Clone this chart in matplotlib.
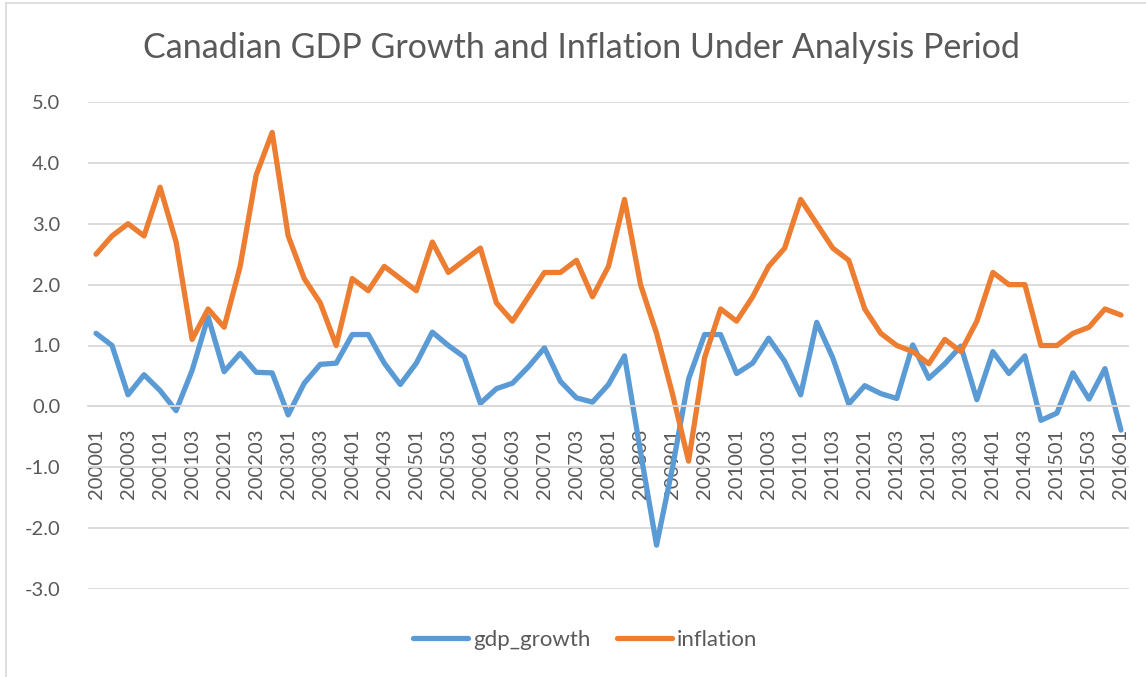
import numpy as np
import matplotlib
matplotlib.use("Agg")
import matplotlib.pyplot as plt
from matplotlib.lines import Line2D

plt.rcParams['font.family'] = ['Lato', 'DejaVu Sans']

periods = [f"{y}{q:02d}" for y in range(2000, 2017) for q in range(1, 5)][:65]

gdp_growth = [1.20, 1.00, 0.19, 0.52, 0.26, -0.07, 0.59, 1.47, 0.57, 0.87,
              0.56, 0.55, -0.14, 0.38, 0.69, 0.71, 1.18, 1.18, 0.71, 0.36,
              0.71, 1.22, 1.00, 0.81, 0.05, 0.29, 0.38, 0.65, 0.96, 0.41,
              0.14, 0.07, 0.36, 0.83, -0.75, -2.28, -1.00, 0.45, 1.18, 1.18,
              0.54, 0.71, 1.12, 0.74, 0.19, 1.38, 0.80, 0.04, 0.34, 0.21,
              0.13, 1.01, 0.46, 0.70, 0.99, 0.11, 0.90, 0.54, 0.83, -0.23,
              -0.11, 0.55, 0.12, 0.62, -0.39]

inflation = [2.5, 2.8, 3.0, 2.8, 3.6, 2.7, 1.1, 1.6, 1.3, 2.3,
             3.8, 4.5, 2.8, 2.1, 1.7, 1.0, 2.1, 1.9, 2.3, 2.1,
             1.9, 2.7, 2.2, 2.4, 2.6, 1.7, 1.4, 1.8, 2.2, 2.2,
             2.4, 1.8, 2.3, 3.4, 2.0, 1.2, 0.2, -0.9, 0.8, 1.6,
             1.4, 1.8, 2.3, 2.6, 3.4, 3.0, 2.6, 2.4, 1.6, 1.2,
             1.0, 0.9, 0.7, 1.1, 0.9, 1.4, 2.2, 2.0, 2.0, 1.0,
             1.0, 1.2, 1.3, 1.6, 1.5]

title = "Canadian GDP Growth and Inflation Under Analysis Period"
text_col = "#595959"
grid_col = "#d9d9d9"

W, H = 1146, 677
fig = plt.figure(figsize=(W / 100, H / 100), dpi=100)
ax = fig.add_axes([88 / W, 1 - 589 / H, (1129 - 88) / W, (589 - 102) / H])

x = np.arange(len(periods))
ax.plot(x, gdp_growth, color="#5B9BD5", lw=3.8, label="gdp_growth",
        solid_joinstyle="round", solid_capstyle="round")
ax.plot(x, inflation, color="#ED7D31", lw=3.8, label="inflation",
        solid_joinstyle="round", solid_capstyle="round")

for s in ["top", "right", "left"]:
    ax.spines[s].set_visible(False)
ax.spines["bottom"].set_position(("data", 0))
ax.spines["bottom"].set_color(grid_col)
ax.spines["bottom"].set_linewidth(1.3)

ax.set_xlim(-0.5, len(periods) - 0.5)
ax.set_ylim(-3, 5)
ax.set_yticks(np.arange(-3, 6, 1))
ax.set_yticklabels([f"{v:.1f}" for v in np.arange(-3, 6, 1)])
ax.set_xticks(x[::2])
ax.set_xticklabels(periods[::2])

ax.grid(axis="y", color=grid_col, lw=1.3)
ax.set_axisbelow(True)
ax.tick_params(axis="x", length=0, pad=16, labelsize=14.5, labelcolor=text_col,
               labelrotation=90)
ax.tick_params(axis="y", length=0, pad=20, labelsize=14.5, labelcolor=text_col)

fig.text(581 / W, 1 - 48 / H, title, ha="center", va="center",
         fontsize=24.5, color=text_col)

fig.legend(loc="center", bbox_to_anchor=(585 / W, 1 - 640 / H), ncol=2,
           frameon=False, fontsize=16, labelcolor=text_col,
           handlelength=2.5, handletextpad=0.2, columnspacing=1.2)

fig.add_artist(Line2D([6 / W, 6 / W], [0, 1 - 3 / H], color=grid_col, lw=1.2))
fig.add_artist(Line2D([6 / W, 1], [1 - 3 / H, 1 - 3 / H], color=grid_col, lw=1.2))

fig.savefig("out.png", dpi=100)
